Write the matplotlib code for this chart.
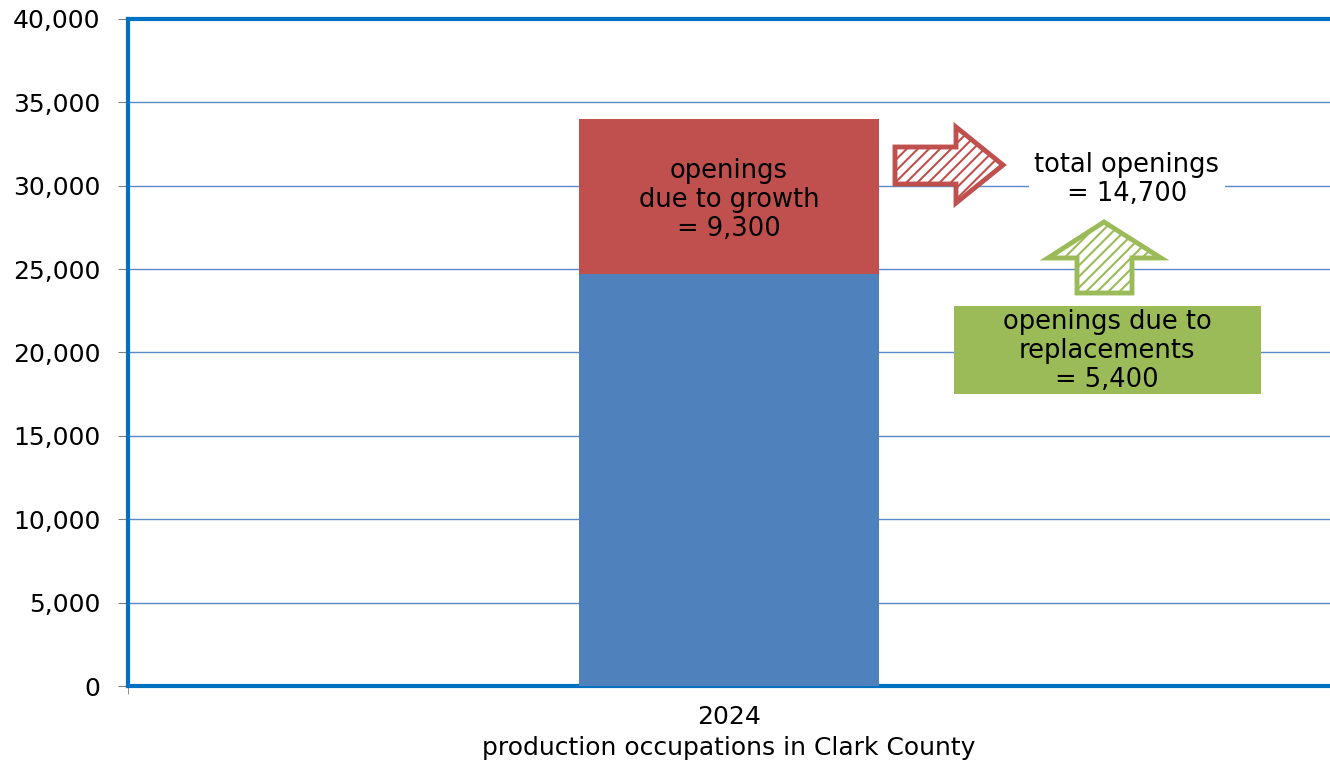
import matplotlib.pyplot as plt
from matplotlib.patches import Polygon, Rectangle
from matplotlib.ticker import FuncFormatter

plt.rcParams['font.family'] = ['DejaVu Sans']
plt.rcParams['hatch.linewidth'] = 1.5

category = ['2024']
replacements = [24700]   # base segment
growth = [9300]          # openings due to growth
total_openings = 14700
replacement_openings = 5400
x_label = 'production occupations in Clark County'

blue = '#4F81BD'
red = '#C0504D'
green = '#9BBB59'
axis_blue = '#0070C0'
fs = 18.5

fig = plt.figure(figsize=(13.3, 7.62), dpi=100)
ax = fig.add_axes([128 / 1330, 76 / 762, 1202 / 1330, 667 / 762])

x = [0]
ax.bar(x, replacements, width=1.0, color=blue, zorder=3)
ax.bar(x, growth, width=1.0, bottom=replacements, color=red, zorder=3)

ax.set_xlim(-2, 2)
ax.set_ylim(0, 40000)
ax.set_yticks(range(0, 40001, 5000))
ax.yaxis.set_major_formatter(FuncFormatter(lambda v, p: '{:,.0f}'.format(v)))
ax.set_xticks(x)
ax.set_xticklabels(category)
ax.set_xticks([-2, 2], minor=True)
ax.tick_params(axis='x', which='major', length=0, pad=14, labelsize=18)
ax.tick_params(axis='x', which='minor', length=6, color='#808080', direction='out')
ax.tick_params(axis='y', length=7, color='#808080', direction='out', labelsize=18, pad=13)
ax.set_xlabel(x_label, fontsize=18, labelpad=5)

ax.grid(axis='y', color='#5B8BC6', linewidth=1.0, zorder=0)
ax.set_axisbelow(True)
for side in ['left', 'bottom', 'top']:
    ax.spines[side].set_color(axis_blue)
    ax.spines[side].set_linewidth(3)
ax.spines['right'].set_visible(False)

# text inside the red segment
ax.text(0, replacements[0] + growth[0] / 2 - 200,
        'openings\ndue to growth\n= {:,}'.format(growth[0]),
        ha='center', va='center', fontsize=fs, linespacing=1.15, zorder=4)


def px(xp, yp):
    return ((xp - 128) / 1202, (686 - yp) / 667)


def hatched_arrow(verts, color):
    pts = [px(*v) for v in verts]
    ax.add_patch(Polygon(pts, closed=True, transform=ax.transAxes, facecolor='white',
                         edgecolor=color, hatch='///', linewidth=0, zorder=5))
    ax.add_patch(Polygon(pts, closed=True, transform=ax.transAxes, fill=False,
                         edgecolor=color, linewidth=3.5, zorder=6))


hatched_arrow([(895, 147), (956, 147), (956, 127), (1003, 165), (956, 203),
               (956, 184), (895, 184)], red)
hatched_arrow([(1077, 293), (1077, 258), (1048, 258), (1104, 222), (1161, 258),
               (1132, 258), (1132, 293)], green)

bx0, by0 = px(954, 394)
bx1, by1 = px(1261, 306)
ax.add_patch(Rectangle((bx0, by0), bx1 - bx0, by1 - by0, transform=ax.transAxes,
                       facecolor=green, edgecolor='none', zorder=5))
tx, ty = px(1107, 351)
ax.text(tx, ty, 'openings due to\nreplacements\n= {:,}'.format(replacement_openings),
        transform=ax.transAxes, ha='center', va='center', fontsize=fs,
        linespacing=1.15, zorder=6)

tx, ty = px(1127, 180)
ax.text(tx, ty, 'total openings\n= {:,}'.format(total_openings),
        transform=ax.transAxes, ha='center', va='center', fontsize=fs,
        linespacing=1.15, zorder=6,
        bbox=dict(facecolor='white', edgecolor='none', pad=4))

fig.savefig('out.png', dpi=100)
